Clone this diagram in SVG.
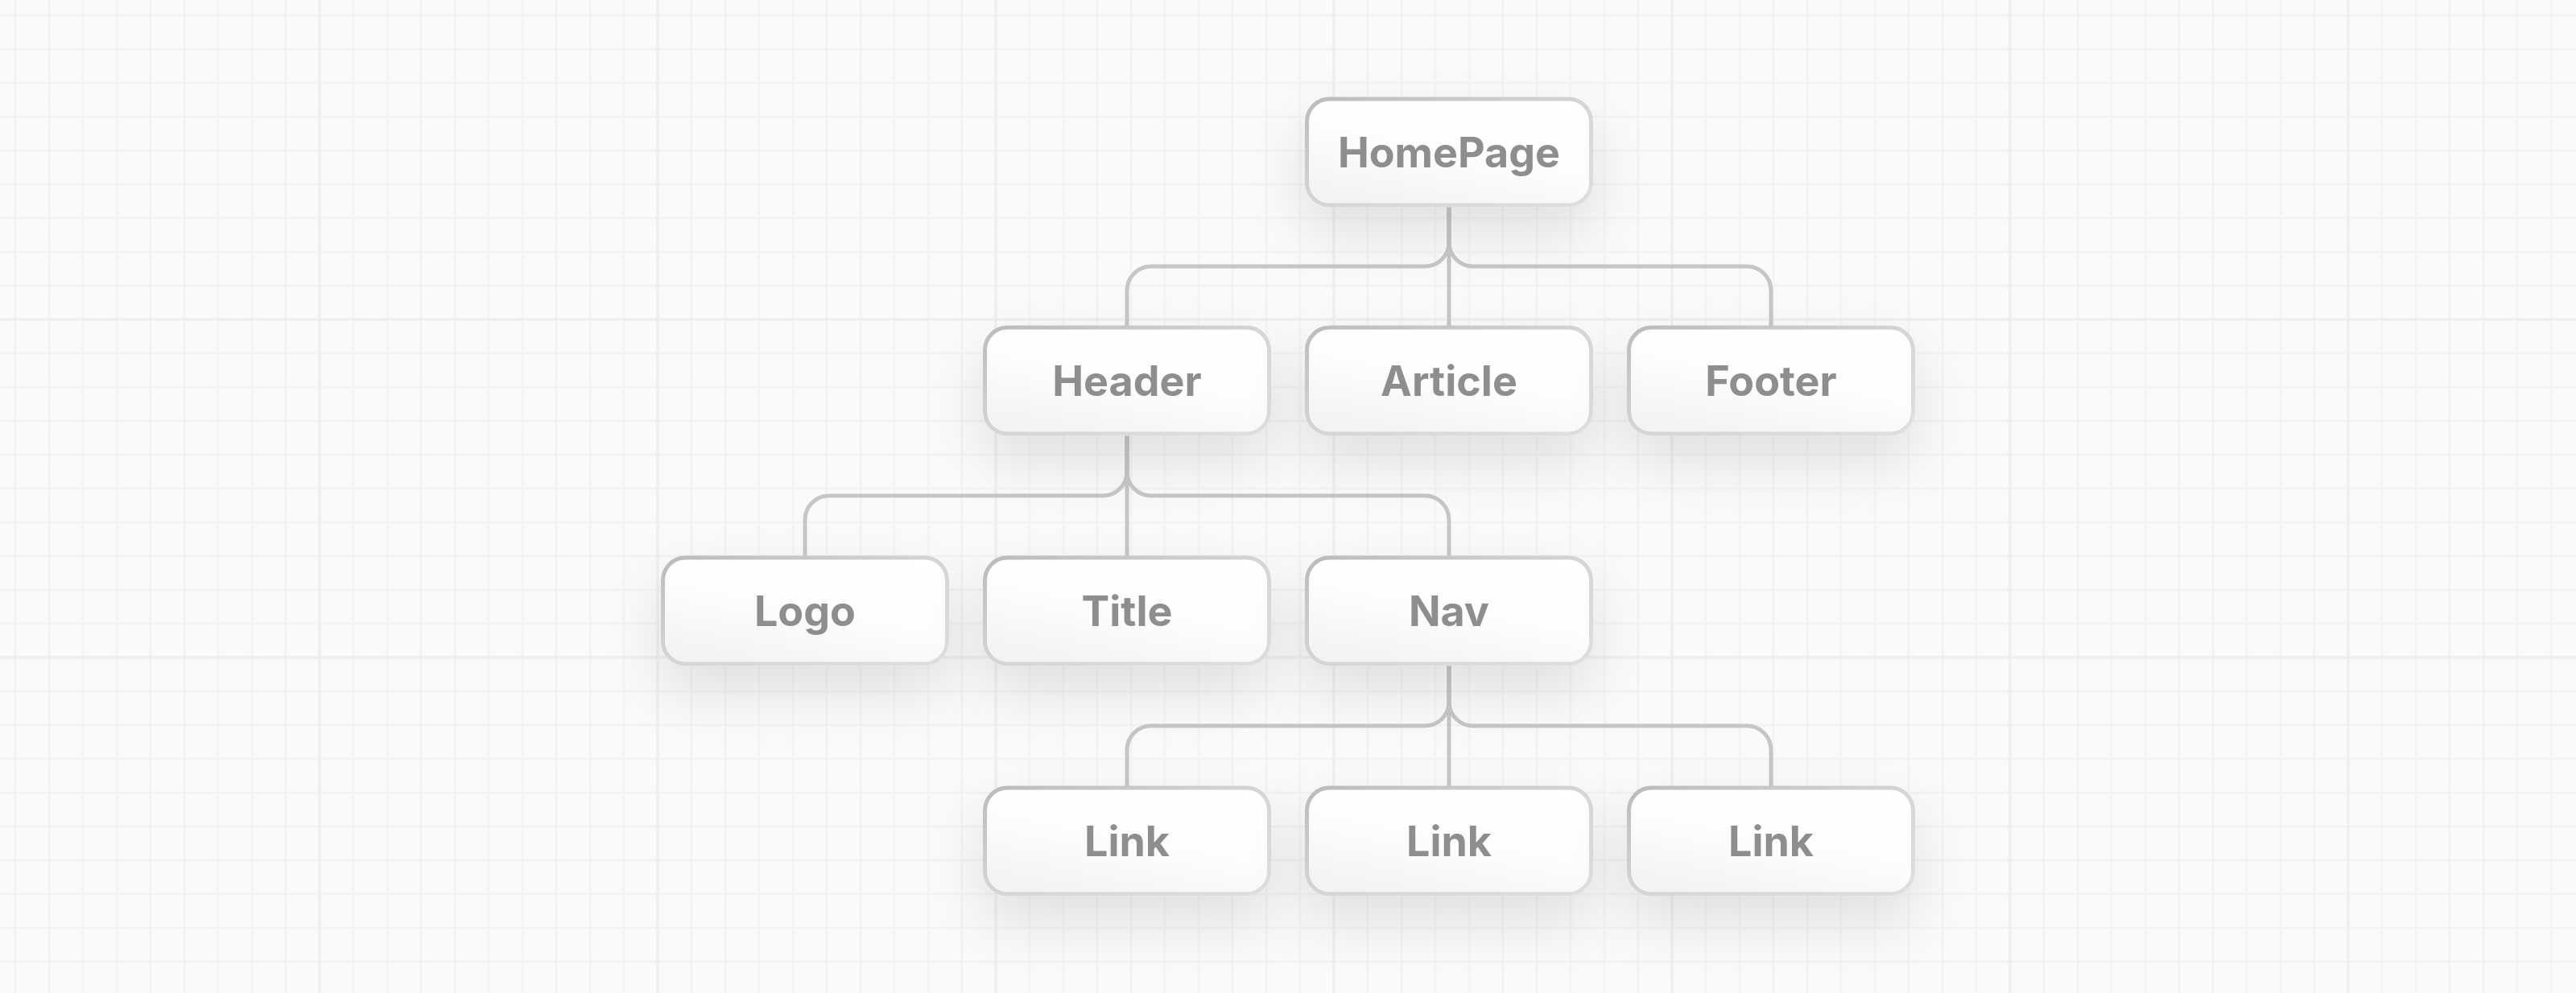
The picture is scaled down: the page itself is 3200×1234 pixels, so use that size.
<svg xmlns="http://www.w3.org/2000/svg" width="3200" height="1234" viewBox="0 0 3200 1234">
  <defs>
    <pattern id="minor" patternUnits="userSpaceOnUse" x="-2" y="-2" width="42" height="42">
      <rect x="19.5" y="0" width="3" height="42" fill="#f3f3f3"/>
      <rect x="0" y="19.5" width="42" height="3" fill="#f3f3f3"/>
    </pattern>
    <pattern id="major" patternUnits="userSpaceOnUse" x="187" y="187" width="420" height="420">
      <rect x="208.5" y="0" width="3" height="420" fill="#eeeeee"/>
      <rect x="0" y="208.5" width="420" height="3" fill="#eeeeee"/>
    </pattern>
    <linearGradient id="fillG" x1="0.75" y1="0" x2="0.25" y2="1">
      <stop offset="0" stop-color="#ffffff"/>
      <stop offset="0.5" stop-color="#fdfdfd"/>
      <stop offset="1" stop-color="#f3f3f3"/>
    </linearGradient>
    <linearGradient id="strokeG" x1="0" y1="0" x2="1" y2="1">
      <stop offset="0" stop-color="#bbbbbb"/>
      <stop offset="0.5" stop-color="#d5d5d5"/>
      <stop offset="1" stop-color="#dfdfdf"/>
    </linearGradient>
    <filter id="shadow" x="-40%" y="-60%" width="180%" height="250%">
      <feDropShadow dx="0" dy="32" stdDeviation="34" flood-color="#000000" flood-opacity="0.1"/>
    </filter>
  </defs>
  <style>
    .box { fill: url(#fillG); stroke: url(#strokeG); stroke-width: 5; }
    .lbl { font-family: Inter, "Liberation Sans", sans-serif; font-weight: 700; font-size: 52px; fill: #8e8e8e; text-anchor: middle; }
    .conn { fill: none; stroke: #c6c6c6; stroke-width: 5; }
    .node { filter: url(#shadow); }
  </style>

  <rect x="0" y="0" width="3200" height="1234" fill="#fafafa"/>
  <rect x="0" y="0" width="3200" height="1234" fill="url(#minor)"/>
  <rect x="0" y="0" width="3200" height="1234" fill="url(#major)"/>

  <g id="connectors">
    <path class="conn" d="M1800 257 V405"/>
    <path class="conn" d="M1800 257 V301 A30 30 0 0 1 1770 331 H1430 A30 30 0 0 0 1400 361 V405"/>
    <path class="conn" d="M1800 257 V301 A30 30 0 0 0 1830 331 H2170 A30 30 0 0 1 2200 361 V405"/>

    <path class="conn" d="M1400 541 V691"/>
    <path class="conn" d="M1400 541 V586 A30 30 0 0 1 1370 616 H1030 A30 30 0 0 0 1000 646 V691"/>
    <path class="conn" d="M1400 541 V586 A30 30 0 0 0 1430 616 H1770 A30 30 0 0 1 1800 646 V691"/>

    <path class="conn" d="M1800 827 V977"/>
    <path class="conn" d="M1800 827 V872 A30 30 0 0 1 1770 902 H1430 A30 30 0 0 0 1400 932 V977"/>
    <path class="conn" d="M1800 827 V872 A30 30 0 0 0 1830 902 H2170 A30 30 0 0 1 2200 932 V977"/>
  </g>

  <g id="node-homepage" class="node">
    <rect class="box" x="1623.5" y="123" width="353" height="132" rx="28"/>
    <text class="lbl" x="1800" y="208">HomePage</text>
  </g>

  <g id="node-header" class="node">
    <rect class="box" x="1223.5" y="407" width="353" height="132" rx="28"/>
    <text class="lbl" x="1400" y="492">Header</text>
  </g>
  <g id="node-article" class="node">
    <rect class="box" x="1623.5" y="407" width="353" height="132" rx="28"/>
    <text class="lbl" x="1800" y="492">Article</text>
  </g>
  <g id="node-footer" class="node">
    <rect class="box" x="2023.5" y="407" width="353" height="132" rx="28"/>
    <text class="lbl" x="2200" y="492">Footer</text>
  </g>

  <g id="node-logo" class="node">
    <rect class="box" x="823.5" y="693" width="353" height="132" rx="28"/>
    <text class="lbl" x="1000" y="778">Logo</text>
  </g>
  <g id="node-title" class="node">
    <rect class="box" x="1223.5" y="693" width="353" height="132" rx="28"/>
    <text class="lbl" x="1400" y="778">Title</text>
  </g>
  <g id="node-nav" class="node">
    <rect class="box" x="1623.5" y="693" width="353" height="132" rx="28"/>
    <text class="lbl" x="1800" y="778">Nav</text>
  </g>

  <g id="node-link-1" class="node">
    <rect class="box" x="1223.5" y="979" width="353" height="132" rx="28"/>
    <text class="lbl" x="1400" y="1064">Link</text>
  </g>
  <g id="node-link-2" class="node">
    <rect class="box" x="1623.5" y="979" width="353" height="132" rx="28"/>
    <text class="lbl" x="1800" y="1064">Link</text>
  </g>
  <g id="node-link-3" class="node">
    <rect class="box" x="2023.5" y="979" width="353" height="132" rx="28"/>
    <text class="lbl" x="2200" y="1064">Link</text>
  </g>
</svg>
